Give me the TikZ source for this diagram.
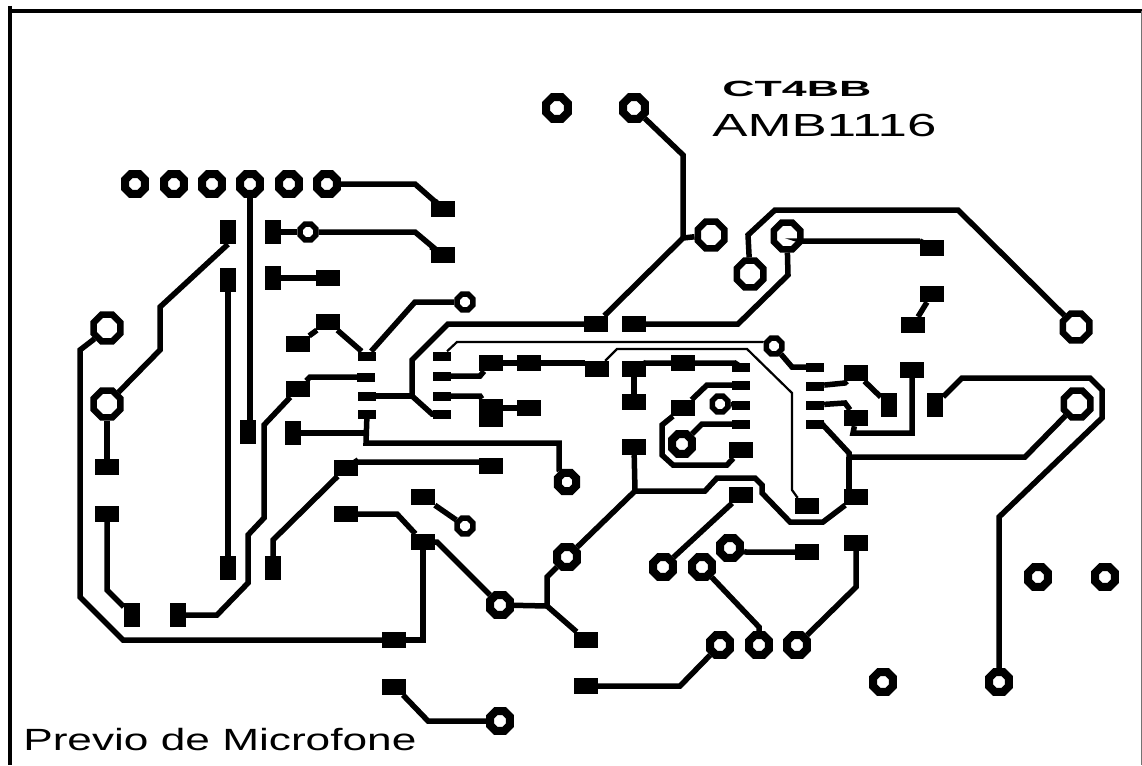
\documentclass[tikz,border=0pt]{standalone}
\usepackage{fontspec}
\setmainfont{Liberation Sans}
\usetikzlibrary{shapes.geometric}
\tikzset{
  viabig/.style={regular polygon,regular polygon sides=8,draw,fill=white,line width=6.5pt,inner sep=0pt,minimum size=28.7pt},
  viamid/.style={regular polygon,regular polygon sides=8,draw,fill=white,line width=8pt,inner sep=0pt,minimum size=21.6pt},
  viasmall/.style={regular polygon,regular polygon sides=8,draw,fill=white,line width=5.5pt,inner sep=0pt,minimum size=16.8pt},
  padh/.style={rectangle,fill=black,inner sep=0pt,minimum width=24pt,minimum height=16pt},
  padv/.style={rectangle,fill=black,inner sep=0pt,minimum width=16pt,minimum height=24pt},
  padic/.style={rectangle,fill=black,inner sep=0pt,minimum width=18pt,minimum height=9pt},
  track/.style={line width=5.5pt,line join=miter},
  trackthin/.style={line width=2.2pt,line join=miter}
}

\begin{document}
\begin{tikzpicture}[x=1pt,y=-1pt]
  \useasboundingbox (0,0) rectangle (1142,765);
  \coordinate (frameTL) at (10,6);
  \coordinate (frameBL) at (10,765);
  \coordinate (frameL) at (8,11);
  \coordinate (frameR) at (1142,11);
  \coordinate (frameRT) at (1141,11);
  \coordinate (frameRB) at (1141,765);
  \draw[line width=3.5pt] (frameTL) -- (frameBL);
  \draw[line width=3.2pt] (frameL) -- (frameR);
  \draw[line width=.7pt,black!55] (frameRT) -- (frameRB);

  \node[viamid] (hole1) at (135,184) {};
  \node[viamid] (hole2) at (174,184) {};
  \node[viamid] (hole3) at (212,184) {};
  \node[viamid] (hole4) at (250,184) {};
  \node[viamid] (hole5) at (289,184) {};
  \node[viamid] (hole6) at (327,184) {};
  \node[viamid,minimum size=23.5pt] (top1) at (557,108) {};
  \node[viamid,minimum size=23.5pt] (top2) at (634,108) {};
  \node[viabig] (coilA) at (711,235) {};
  \node[viabig] (coilB) at (750,274) {};
  \node[viabig] (coilC) at (787,236) {};
  \node[viabig] (coilD) at (1076,327) {};
  \node[viabig] (coilE) at (1077,404) {};
  \node[viabig] (inA) at (107,328) {};
  \node[viabig] (inB) at (107,404) {};
  \node[viasmall] (viaA) at (308,232) {};
  \node[viasmall] (viaB) at (465,302) {};
  \node[viasmall] (viaC) at (774,346) {};
  \node[viasmall] (viaD) at (720,404) {};
  \node[viasmall] (viaE) at (465,526) {};
  \node[viamid] (viaF) at (682,444) {};
  \node[viamid,minimum size=20pt] (viaG) at (567,482) {};
  \node[viamid] (viaH) at (567,557) {};
  \node[viamid] (viaI) at (500,605) {};
  \node[viamid] (viaJ) at (500,721) {};
  \node[viamid] (viaK) at (663,567) {};
  \node[viamid] (viaL) at (702,567) {};
  \node[viamid] (viaM) at (730,548) {};
  \node[viamid] (viaN) at (720,645) {};
  \node[viamid] (viaO) at (759,645) {};
  \node[viamid] (viaP) at (797,645) {};
  \node[viamid] (viaQ) at (883,682) {};
  \node[viamid] (viaR) at (999,682) {};
  \node[viamid] (viaS) at (1038,577) {};
  \node[viamid] (viaT) at (1105,577) {};

  \node[padv] (r1) at (228,232) {};
  \node[padv] (r2) at (273,232) {};
  \node[padv] (r3) at (228,280) {};
  \node[padv] (r4) at (273,278) {};
  \node[padv] (r5) at (248,432) {};
  \node[padv] (r6) at (293,433) {};
  \node[padv] (r7) at (228,568) {};
  \node[padv] (r8) at (273,568) {};
  \node[padv] (r9) at (132,615) {};
  \node[padv] (r10) at (178,615) {};
  \node[padv] (r11) at (889,405) {};
  \node[padv] (r12) at (935,405) {};
  \node[padh] (c1) at (443,209) {};
  \node[padh] (c2) at (443,255) {};
  \node[padh] (c3) at (328,278) {};
  \node[padh] (c4) at (328,322) {};
  \node[padh] (c5) at (298,344) {};
  \node[padh] (c6) at (298,389) {};
  \node[padh] (c7) at (107,467) {};
  \node[padh] (c8) at (107,514) {};
  \node[padh] (c9) at (346,468) {};
  \node[padh] (c10) at (346,514) {};
  \node[padh] (c11) at (491,466) {};
  \node[padh] (c12) at (423,497) {};
  \node[padh] (c13) at (423,542) {};
  \node[padh] (c14) at (394,640) {};
  \node[padh] (c15) at (394,687) {};
  \node[padh] (c16) at (596,324) {};
  \node[padh] (c17) at (634,324) {};
  \node[padh] (c18) at (491,363) {};
  \node[padh] (c19) at (529,363) {};
  \node[padh] (c20) at (597,369) {};
  \node[padh] (c21) at (634,369) {};
  \node[padh] (c22) at (634,402) {};
  \node[padh,minimum height=28pt] (c23) at (491,413) {};
  \node[padh] (c24) at (529,408) {};
  \node[padh] (c25) at (634,447) {};
  \node[padh] (c26) at (683,363) {};
  \node[padh] (c27) at (683,408) {};
  \node[padh] (c28) at (741,450) {};
  \node[padh] (c29) at (741,495) {};
  \node[padh] (c30) at (807,506) {};
  \node[padh] (c31) at (856,373) {};
  \node[padh] (c32) at (856,418) {};
  \node[padh] (c33) at (856,497) {};
  \node[padh] (c34) at (856,543) {};
  \node[padh] (c35) at (807,552) {};
  \node[padh] (c36) at (912,370) {};
  \node[padh] (c37) at (932,248) {};
  \node[padh] (c38) at (932,294) {};
  \node[padh] (c39) at (913,325) {};
  \node[padh] (c40) at (586,640) {};
  \node[padh] (c41) at (586,686) {};

  \node[padic] (icA1) at (367,356) {};
  \node[padic] (icA2) at (366,377) {};
  \node[padic] (icA3) at (367,396) {};
  \node[padic] (icA4) at (367,414) {};
  \node[padic] (icA5) at (442,356) {};
  \node[padic] (icA6) at (442,376) {};
  \node[padic] (icA7) at (442,396) {};
  \node[padic] (icA8) at (442,414) {};
  \node[padic] (icB1) at (741,367) {};
  \node[padic] (icB2) at (741,385) {};
  \node[padic] (icB3) at (741,405) {};
  \node[padic] (icB4) at (741,424) {};
  \node[padic] (icB5) at (815,367) {};
  \node[padic] (icB6) at (815,386) {};
  \node[padic] (icB7) at (815,405) {};
  \node[padic] (icB8) at (815,424) {};

  \coordinate (jA) at (412,396);
  \coordinate (jB) at (366,433);
  \coordinate (jC) at (683,238);
  \coordinate (jD) at (635,491);
  \coordinate (jE) at (547,606);
  \coordinate (jF) at (849,457);
  \coordinate (jG) at (423,640);

  \begin{scope}[track]
   \draw (hole4) -- (hole4 |- r5);
   \draw (hole6) -- (415,184) -- (440,206) -- (c1);
   \draw (r1.south) -- (160,307) -- (160,350) -- (inB);
   \draw (r2) -- (viaA);
   \draw (viaA) -- (415,232) -- (440,253) -- (c2);
   \draw (r3) -- (r7);
   \draw (r4) -- (c3);
   \draw (c5) -- (c4);
   \draw (c4) -- (icA1);
   \draw (icA1) -- (415,302) -- (viaB);
   \draw (c6) -- (310,377) -- (icA2);
   \draw (c6) -- (264,425) -- (264,518) -- (248,535) -- (248,583) -- (217,615) -- (r10);
   \draw (icA3) -- (jA);
   \draw (r6) -- (jB);
   \draw (icA4) -- (366,443) -- (559,443) -- (559,470) -- (viaG);
   \draw (c16) -- (448,324) -- (412,360) -- (jA) -- (432,414) -- (icA8);
   \draw (c16) -- (jC) -- (coilA);
   \draw (jC) -- (683,155) -- (top2);
   \draw (c17) -- (738,324) -- (788,275) -- (coilC);
   \draw (coilC) -- (803,241) -- (920,241) -- (c37);
   \draw (coilB) -- (748,235) -- (775,210) -- (958,210) -- (coilD);
   \draw (c38) -- (c39);
   \draw (icA6) -- (480,376) -- (c18);
   \draw (c18) -- (c19);
   \draw (c19) -- (c20.west |- c19);
   \draw (icA7) -- (480,396) -- (c23);
   \draw (c23.east |- c24) -- (c24);
   \draw (c21) -- (645,363) -- (c26);
   \draw (c26) -- (735,363) -- (icB1);
   \draw (icB2) -- (707,385) -- (c27);
   \draw (c27) -- (662,425) -- (662,455) -- (673,465) -- (727,465) -- (c28);
   \draw (c21) -- (c22);
   \draw (viaD) -- (icB3);
   \draw (icB4) -- (702,424) -- (viaF);
   \draw (viaC) -- (792,367) -- (icB5);
   \draw (icB6) -- (845,383) -- (c31);
   \draw (c31) -- (r11);
   \draw (icB7) -- (845,403) -- (c32);
   \draw (c32) -- (853,433) -- (912,433) -- (c36);
   \draw (icB8) -- (822,424) -- (849,453) -- (jF) -- (1025,457) -- (coilE);
   \draw (jF) -- (jF |- c33);
   \draw (c33) -- (823,522) -- (790,522) -- (762,493) -- (762,485) -- (755,478) -- (717,478) -- (705,491) -- (jD);
   \draw (c25) -- (jD) -- (viaH);
   \draw (c29) -- (viaK);
   \draw (viaM) -- (746,552) -- (c35);
   \draw (viaL) -- (759,627) -- (viaO);
   \draw (viaN) -- (680,686) -- (c41);
   \draw (viaP) -- (856,587) -- (c34);
   \draw (viaI) -- (jE) -- (547,577) -- (viaH);
   \draw (jE) -- (c40);
   \draw (c15) -- (403,695) -- (428,721) -- (viaJ);
   \draw (c13) -- (437,542) -- (viaI);
   \draw (c10) -- (397,514) -- (c13);
   \draw (c13) -- (jG) -- (c14);
   \draw (c14) -- (123,640) -- (80,597) -- (80,350) -- (93,340) -- (inA);
   \draw (c12) -- (viaE);
   \draw (c9) -- (355,462) -- (c11.west |- 0,462);
   \draw (c9) -- (273,540) -- (r8);
   \draw (c8) -- (107,590) -- (r9);
   \draw (c7) -- (inB);
   \draw (r12) -- (962,378) -- (1090,378) -- (1102,390) -- (1102,418) -- (999,517) -- (viaR);
  \end{scope}

  \begin{scope}[trackthin]
   \draw (icA5) -- (457,342) -- (763,342) -- (viaC);
   \draw (c20) -- (617,349) -- (747,349) -- (792,393) -- (792,490) -- (797,497) -- (c30);
  \end{scope}

  \node[anchor=base west,inner sep=0pt,font=\fontsize{22}{22}\selectfont\bfseries,xscale=2.03] (brand) at (722,97) {CT4BB};
  \node[anchor=base west,inner sep=0pt,font=\fontsize{32}{32}\selectfont,xscale=1.65] (model) at (712,136) {AMB1116};
  \node[anchor=base west,inner sep=0pt,font=\fontsize{30.7}{31}\selectfont,xscale=1.44] (title) at (23,750) {Previo de Microfone};
\end{tikzpicture}
\end{document}
